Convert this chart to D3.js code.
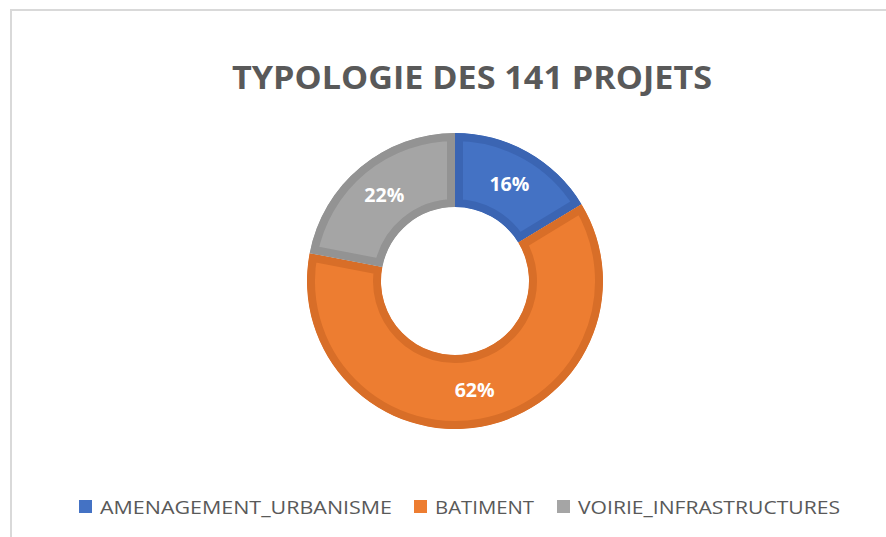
<!DOCTYPE html>
<html>
<head>
<meta charset="utf-8">
<script src="https://cdn.jsdelivr.net/npm/d3@7"></script>
<style>
  body { margin: 0; background: #fff; }
  svg { display: block; }
</style>
</head>
<body>
<svg id="chart" width="886" height="537"></svg>
<script>
  // data (141 projects)
  const categories = ['AMENAGEMENT_URBANISME', 'BATIMENT', 'VOIRIE_INFRASTRUCTURES'];
  const counts = [23, 87, 31];
  const fills = ['#4472C4', '#ED7D31', '#A5A5A5'];
  const borders = ['#3B65B3', '#D86E28', '#939393'];
  const title = 'TYPOLOGIE DES 141 PROJETS';

  const svg = d3.select('#chart');

  // chart frame
  svg.append('rect')
      .attr('x', 11).attr('y', 10)
      .attr('width', 960).attr('height', 600)
      .attr('fill', '#fff')
      .attr('stroke', '#d9d9d9')
      .attr('stroke-width', 2);

  svg.append('text')
      .attr('x', 472).attr('y', 89)
      .attr('text-anchor', 'middle')
      .attr('font-family', 'Open Sans, sans-serif')
      .attr('font-weight', 'bold')
      .attr('font-size', 33)
      .attr('fill', '#595959')
      .attr('textLength', 480)
      .attr('lengthAdjust', 'spacingAndGlyphs')
      .text(title);

  const cx = 455, cy = 281, outerR = 148, innerR = 74;
  const total = d3.sum(counts);

  const pie = d3.pie().sort(null).value(d => d.v);
  const arc = d3.arc().innerRadius(innerR).outerRadius(outerR);
  const arcs = pie(categories.map((c, i) => ({c, v: counts[i], i})));

  const g = svg.append('g').attr('transform', 'translate(' + cx + ',' + cy + ')');
  const defs = svg.append('defs');

  defs.selectAll('clipPath').data(arcs).enter().append('clipPath')
      .attr('id', d => 'clip' + d.data.i)
      .append('path')
      .attr('d', arc);

  // stroke clipped to each slice so the darker border sits inside it
  g.selectAll('path.slice').data(arcs).enter().append('path')
      .attr('class', 'slice')
      .attr('d', arc)
      .attr('fill', d => fills[d.data.i])
      .attr('stroke', d => borders[d.data.i])
      .attr('stroke-width', 16)
      .attr('clip-path', d => 'url(#clip' + d.data.i + ')');

  g.selectAll('text.lbl').data(arcs).enter().append('text')
      .attr('class', 'lbl')
      .attr('transform', d => 'translate(' + arc.centroid(d) + ')')
      .attr('dy', '0.36em')
      .attr('text-anchor', 'middle')
      .attr('font-family', 'Open Sans, sans-serif')
      .attr('font-weight', 'bold')
      .attr('font-size', 19)
      .attr('fill', '#fff')
      .attr('textLength', 40)
      .attr('lengthAdjust', 'spacingAndGlyphs')
      .text(d => Math.round(d.data.v / total * 100) + '%');

  // legend
  const legendX = [79, 414, 557];
  const legendW = [292, 99, 262];
  const lg = svg.append('g').selectAll('g').data(categories).enter().append('g')
      .attr('transform', (d, i) => 'translate(' + legendX[i] + ',500)');

  lg.append('rect')
      .attr('width', 13).attr('height', 13)
      .attr('fill', (d, i) => fills[i]);

  lg.append('text')
      .attr('x', 21).attr('y', 14)
      .attr('font-family', 'Open Sans, sans-serif')
      .attr('font-size', 19)
      .attr('fill', '#595959')
      .attr('textLength', (d, i) => legendW[i])
      .attr('lengthAdjust', 'spacingAndGlyphs')
      .text(d => d);
</script>
</body>
</html>
